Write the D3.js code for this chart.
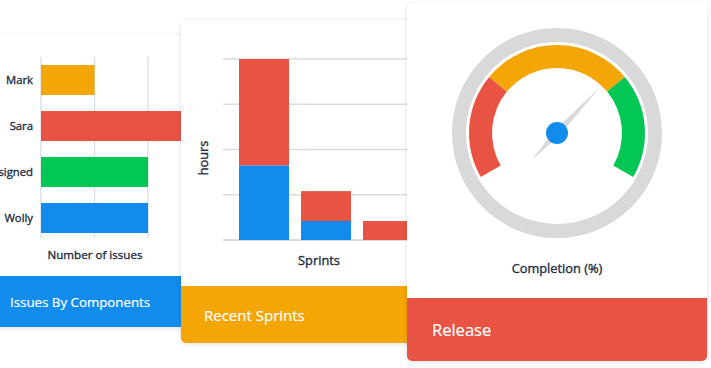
<!DOCTYPE html>
<html>
<head>
<meta charset="utf-8">
<script src="https://cdn.jsdelivr.net/npm/d3@7"></script>
<style>
  html, body { margin: 0; padding: 0; background: #fff; }
  svg { display: block; font-family: "Open Sans", sans-serif; }
</style>
</head>
<body>
<script>
// issues by components
const issueNames = ["Mark", "Sara", "Unassigned", "Wolly"];
const issueCounts = [1, 3, 2, 2];
const issueTicks = [0, 1, 2, 3, 4];

// recent sprints (hours)
const sprintNames = ["Sprint 1", "Sprint 2", "Sprint 3"];
const sprintDone = [16.5, 4.2, 0];
const sprintLeft = [23.5, 6.6, 4.2];
const hourTicks = [0, 10, 20, 30, 40];

// release gauge
const gaugeBands = [0, 29, 71, 100];
const completion = 68;

const width = 711, height = 368;
const blue = "#118cec", red = "#e85344", green = "#03c755", orange = "#f5a607";
const ink = "#222e44", grid = "#d6dde3";

const svg = d3.select("body").append("svg")
    .attr("width", width)
    .attr("height", height);

let defs = svg.append("defs");
defs.append("filter")
    .attr("id", "shadow")
    .attr("x", "-20%").attr("y", "-20%").attr("width", "140%").attr("height", "140%")
    .append("feDropShadow")
    .attr("dx", 0).attr("dy", 1)
    .attr("stdDeviation", 2.5)
    .attr("flood-color", "#000")
    .attr("flood-opacity", 0.13);

function card(id, x, y, w, h, footerY, color) {
    let g = svg.append("g");
    defs.append("clipPath").attr("id", id)
        .append("rect").attr("x", x).attr("y", y).attr("width", w).attr("height", h).attr("rx", 5);
    g.append("rect")
        .attr("x", x).attr("y", y).attr("width", w).attr("height", h).attr("rx", 5)
        .attr("fill", "#fff")
        .attr("filter", "url(#shadow)");
    g.append("rect")
        .attr("clip-path", "url(#" + id + ")")
        .attr("x", x).attr("y", footerY).attr("width", w).attr("height", y + h - footerY)
        .attr("fill", color);
    return g;
}

// chart labels: regular weight with a hairline stroke to look medium
function label(g, x, y, size, txt, anchor) {
    return g.append("text")
        .attr("x", x).attr("y", y)
        .attr("text-anchor", anchor || "middle")
        .attr("font-size", size)
        .attr("fill", ink)
        .attr("stroke", ink)
        .attr("stroke-width", 0.35)
        .text(txt);
}

function createIssues() {
    let g = card("c1", -30, 35, 260, 292, 276, blue);

    let x = d3.scaleLinear().domain([0, 4]).range([41, 255]);
    let y = d3.scaleBand().domain(issueNames).range([57, 241])
        .paddingInner(0.348).paddingOuter(0.174);
    let colors = d3.scaleOrdinal().domain(issueNames).range([orange, red, green, blue]);

    g.selectAll(".vgrid")
        .data(issueTicks)
        .enter().append("line")
        .attr("x1", d => x(d)).attr("x2", d => x(d))
        .attr("y1", 57).attr("y2", 238)
        .attr("stroke", grid).attr("stroke-width", 1.3);

    g.selectAll(".bar")
        .data(issueNames)
        .enter().append("rect")
        .attr("x", x(0))
        .attr("y", d => y(d))
        .attr("width", (d, i) => x(issueCounts[i]) - x(0))
        .attr("height", y.bandwidth())
        .attr("fill", d => colors(d));

    issueNames.forEach(d => label(g, 33, y(d) + y.bandwidth() / 2 + 4, 11.3, d, "end"));

    label(g, 95, 259, 11.6, "Number of issues");

    g.append("text")
        .attr("x", 10).attr("y", 307)
        .attr("font-size", 13.3)
        .attr("fill", "#fff")
        .attr("stroke", "#fff")
        .attr("stroke-width", 0.2)
        .text("Issues By Components");
}

function createSprints() {
    let g = card("c2", 181, 20, 260, 323, 286, orange);

    let x = d3.scaleBand().domain(sprintNames).range([223, 429])
        .paddingInner(0.1935).paddingOuter(0.258);
    let y = d3.scaleLinear().domain([0, 40]).range([240, 59]);

    let rows = sprintNames.map((s, i) => ({sprint: s, done: sprintDone[i], left: sprintLeft[i]}));
    let series = d3.stack().keys(["done", "left"])(rows);
    let colors = {done: blue, left: red};

    g.selectAll(".hgrid")
        .data(hourTicks)
        .enter().append("line")
        .attr("x1", 223).attr("x2", 441)
        .attr("y1", d => y(d)).attr("y2", d => y(d))
        .attr("stroke", grid).attr("stroke-width", d => d === 0 ? 2 : 1.3);

    g.selectAll(".layer")
        .data(series)
        .enter().append("g")
        .attr("fill", d => colors[d.key])
        .selectAll("rect")
        .data(d => d)
        .enter().append("rect")
        .attr("x", d => x(d.data.sprint))
        .attr("y", d => y(d[1]))
        .attr("width", x.bandwidth())
        .attr("height", d => y(d[0]) - y(d[1]));

    label(g, 0, 0, 12.8, "hours")
        .attr("transform", "translate(208,158)rotate(-90)");

    label(g, 319, 265, 12.8, "Sprints");

    g.append("text")
        .attr("x", 204).attr("y", 321)
        .attr("font-size", 15)
        .attr("fill", "#fff")
        .attr("stroke", "#fff")
        .attr("stroke-width", 0.2)
        .text("Recent Sprints");
}

function createGauge() {
    let g = card("c3", 407, 3, 300, 358, 298, red);
    let cx = 557, cy = 133;
    let angle = d3.scaleLinear().domain([0, 100]).range([-120, 120]);
    let rad = d => angle(d) * Math.PI / 180;

    let gg = g.append("g").attr("transform", "translate(" + cx + "," + cy + ")");

    gg.append("circle")
        .attr("r", 98)
        .attr("fill", "none")
        .attr("stroke", "#d9d9d9")
        .attr("stroke-width", 14);

    let bandColors = [red, orange, green];
    let arc = d3.arc().innerRadius(65).outerRadius(88);
    gg.selectAll(".band")
        .data(d3.pairs(gaugeBands))
        .enter().append("path")
        .attr("d", d => arc({startAngle: rad(d[0]), endAngle: rad(d[1])}))
        .attr("fill", (d, i) => bandColors[i]);

    gg.append("path")
        .attr("transform", "rotate(" + angle(completion) + ")")
        .attr("d", "M0,-63L3.5,0L0,37L-3.5,0Z")
        .attr("fill", "#d9d9d9");

    gg.append("circle")
        .attr("r", 11)
        .attr("fill", blue);

    label(g, cx, 273, 12.8, "Completion (%)");

    g.append("text")
        .attr("x", 432).attr("y", 336)
        .attr("font-size", 16.5)
        .attr("fill", "#fff")
        .attr("stroke", "#fff")
        .attr("stroke-width", 0.2)
        .text("Release");
}

createIssues();
createSprints();
createGauge();
</script>
</body>
</html>
